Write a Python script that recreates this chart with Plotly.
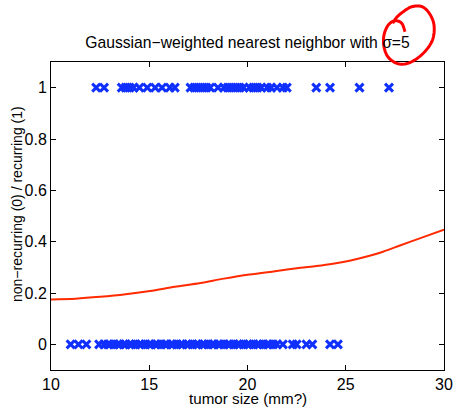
import plotly.graph_objects as go

# ---- data ----
recurring_sizes = [12.3, 12.7, 13.6, 13.8, 14.0, 14.2, 14.5, 14.9, 15.3, 15.65,
                   16.05, 16.3, 17.1, 17.3, 17.5, 17.7, 17.9, 18.1, 18.5, 18.8,
                   19.0, 19.2, 19.4, 19.6, 19.8, 20.1, 20.3, 20.5, 20.7, 21.0,
                   21.2, 21.5, 21.8, 22.0, 23.5, 24.2, 25.7, 27.2]
nonrecurring_sizes = [11.0, 11.4, 11.8, 12.45, 12.7, 12.9, 13.0, 13.2, 13.4, 13.5,
                      13.7, 13.8, 14.0, 14.1, 14.3, 14.5, 14.6, 14.8, 15.0, 15.1,
                      15.3, 15.4, 15.6, 15.8, 15.9, 16.1, 16.2, 16.4, 16.6, 16.7,
                      16.9, 17.0, 17.2, 17.4, 17.5, 17.7, 17.8, 18.0, 18.2, 18.3,
                      18.5, 18.6, 18.8, 19.0, 19.1, 19.3, 19.5, 19.6, 19.8, 20.0,
                      20.1, 20.3, 20.5, 20.6, 20.8, 21.0, 21.1, 21.3, 21.5, 21.8,
                      22.3, 22.5, 23.0, 23.3, 24.2, 24.6]
curve_x = [10.0, 11.25, 12.5, 13.8, 15.04, 16.3, 17.6, 18.8, 20.1, 21.4, 22.7,
           23.5, 24.35, 25.2, 26.07, 26.9, 27.76, 28.8, 30.0]
curve_y = [0.175, 0.178, 0.185, 0.195, 0.208, 0.224, 0.239, 0.256, 0.272, 0.285,
           0.298, 0.305, 0.314, 0.326, 0.342, 0.361, 0.385, 0.414, 0.447]
x_ticks = [10, 15, 20, 25, 30]
y_ticks = [0, 0.2, 0.4, 0.6, 0.8, 1]
y_tick_labels = ["0", "0.2", "0.4", "0.6", "0.8", "1"]

BLUE = "#1030ff"
RED = "#ff2a00"
FONT = "Liberation Sans"

fig = go.Figure()
for xs, yv in ((recurring_sizes, 1), (nonrecurring_sizes, 0)):
    fig.add_trace(go.Scatter(
        x=xs, y=[yv] * len(xs), mode="markers", cliponaxis=False,
        marker=dict(symbol="x-thin", size=8, line=dict(width=3, color=BLUE), color=BLUE),
        showlegend=False, hoverinfo="skip"))
fig.add_trace(go.Scatter(
    x=curve_x, y=curve_y, mode="lines", line=dict(color=RED, width=2, shape="spline", smoothing=0.8),
    showlegend=False, hoverinfo="skip"))

W, H = 454, 407
L, R, T, B = 51, 10, 62, 37
pw, ph = W - L - R, H - T - B


def to_paper(px, py):
    return (px - L) / pw, (H - B - py) / ph


# hand-drawn red circle around sigma (pixel anchor points, smoothed Catmull-Rom)
circle_px = [(405, 31.7), (401.7, 23.3), (395, 20.7), (388.3, 25), (384, 35),
             (384, 46.7), (388.3, 57.3), (398.3, 63.8), (410, 62.5), (423.3, 53.3),
             (432.5, 40), (434, 25), (429.3, 13.3), (421.7, 6.5), (411.7, 6.8),
             (403.3, 11.7), (396.7, 17.3), (392.7, 23.3)]
ext = [circle_px[0]] + circle_px + [circle_px[-1]]
smooth = []
for i in range(1, len(ext) - 2):
    p0, p1, p2, p3 = ext[i - 1], ext[i], ext[i + 1], ext[i + 2]
    for k in range(8):
        t = k / 8
        t2, t3 = t * t, t * t * t
        x = 0.5 * ((2 * p1[0]) + (-p0[0] + p2[0]) * t + (2 * p0[0] - 5 * p1[0] + 4 * p2[0] - p3[0]) * t2
                   + (-p0[0] + 3 * p1[0] - 3 * p2[0] + p3[0]) * t3)
        y = 0.5 * ((2 * p1[1]) + (-p0[1] + p2[1]) * t + (2 * p0[1] - 5 * p1[1] + 4 * p2[1] - p3[1]) * t2
                   + (-p0[1] + 3 * p1[1] - 3 * p2[1] + p3[1]) * t3)
        smooth.append((x, y))
smooth.append(circle_px[-1])
pts = [to_paper(a, b) for a, b in smooth]
path = "M " + " L ".join("{:.5f},{:.5f}".format(a, b) for a, b in pts)

fig.add_shape(type="path", path=path, xref="paper", yref="paper",
              line=dict(color="#ff0000", width=3), layer="above")

axis_common = dict(showgrid=False, zeroline=False, showline=True, linecolor="black",
                   linewidth=1, mirror="ticks", ticks="inside", ticklen=5,
                   tickcolor="black", automargin=False,
                   tickfont=dict(family=FONT, size=16, color="black"))

fig.update_layout(
    width=W, height=H, margin=dict(l=L, r=R, t=T, b=B, autoexpand=False),
    paper_bgcolor="white", plot_bgcolor="white",
    font=dict(family=FONT, size=14, color="black"),
    title=dict(text="Gaussian\u2212weighted nearest neighbor with \u03c3=5",
               x=(L + pw / 2) / W, xanchor="center", y=1 - 43 / H, yanchor="middle",
               font=dict(family=FONT, size=15.7, color="black")),
    xaxis=dict(range=[10, 30], tickvals=x_ticks, **axis_common),
    yaxis=dict(range=[-0.1, 1.1], tickvals=y_ticks, ticktext=y_tick_labels, **axis_common),
    annotations=[
        dict(text="tumor size (mm?)", xref="paper", yref="paper",
             x=0.5, y=(H - B - 398.5) / ph, xanchor="center", yanchor="middle",
             showarrow=False, font=dict(family=FONT, size=15.2, color="black")),
        dict(text="non\u2212recurring (0) / recurring (1)", xref="paper", yref="paper",
             x=(17 - L) / pw, y=(H - B - 204) / ph, xanchor="center", yanchor="middle",
             textangle=-90, showarrow=False, font=dict(family=FONT, size=14, color="black")),
    ],
)

fig.write_html("out.html")
